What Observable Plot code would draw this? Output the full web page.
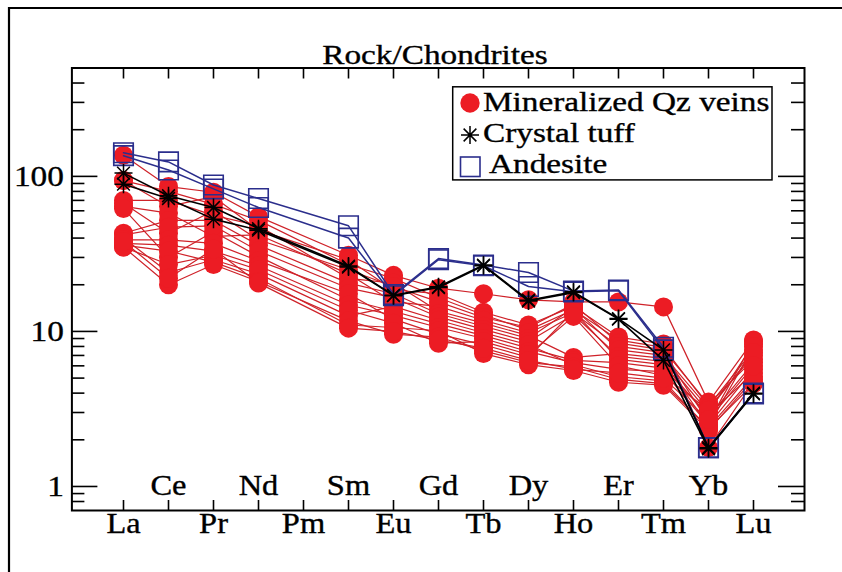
<!DOCTYPE html>
<html><head><meta charset="utf-8">
<script src="https://cdn.jsdelivr.net/npm/d3@7"></script>
<script src="https://cdn.jsdelivr.net/npm/@observablehq/plot@0.6"></script>
<style>
body{margin:0;background:#fff;}
#chart{position:relative;width:842px;height:572px;}
</style></head><body><div id="chart"></div>
<script>
// ---- data ----
const ree = ["La","Ce","Pr","Nd","Pm","Sm","Eu","Gd","Tb","Dy","Ho","Er","Tm","Yb","Lu"];
const outerLabels = ["La","Pr","Pm","Eu","Tb","Ho","Tm","Lu"];
const innerLabels = ["Ce","Nd","Sm","Gd","Dy","Er","Yb"];
const yMajorTicks = [1, 10, 100];
const yMinorTicks = [0.8, 0.9, 2, 3, 4, 5, 6, 7, 8, 9, 20, 30, 40, 50, 60, 70, 80, 90, 200, 300, 400];
const chartTitle = "Rock/Chondrites";
const legendLabels = ["Mineralized Qz veins", "Crystal tuff", "Andesite"];

// values per sample, in the order of `ree` (null = not analysed)
const qzVeins = [
  [137, 86, 79, 55, null, 31, 23, 19, 17.5, 16, 15.5, 15.5, 14.4, 3.5, 8.8],
  [94, 80, 66, 52, null, 27, 22, 16.5, 12.8, 10.2, 13.8, 8.8, 7.9, 3.3, 7.6],
  [94, 64, 74, 45, null, 29, 18.5, 17.5, 13.3, 11, 14.5, 9.2, 8.3, 1.78, 4.7],
  [70, 70, 56, 48, null, 22, 20.5, 13.5, 11.3, 9.4, 6.8, 7.2, 6.7, 3.0, 8.3],
  [67, 43, 60, 39, null, 25, 19.5, 15.5, 12.3, 10.6, 15, 8.4, 7.6, 3.4, 6.6],
  [64, 58, 41, 42, null, 23.5, 15.5, 14.5, 11.8, 9.8, 13.2, 8.0, 7.3, 2.6, 8.6],
  [62, 30, 44, 30.5, null, 16, 13.5, 11.2, 9.4, 7.8, 6.5, 6.3, 5.8, 2.9, 5.4],
  [43, 52, 52, 36, null, 20.5, 17.5, 13, 10.8, 9.0, 14.2, 7.6, 7.0, 3.2, 7.0],
  [42, 47, 48, 33, null, 19, 16.5, 12.4, 10.3, 8.6, 12.8, 6.9, 6.4, 2.45, 8.0],
  [40, 24, 29, 23.5, null, 12.6, 14.5, 11.8, 9.8, 8.2, 6.1, 5.1, 4.8, 2.35, 4.6],
  [39, 39, 37, 28.5, null, 17.5, 12, 9.6, 8.2, 6.8, 13.5, 6.6, 6.1, 2.8, 6.3],
  [37, 36, 33, 26.5, null, 14.8, 12.7, 10.6, 9.0, 7.4, 6.3, 5.7, 5.5, 2.5, 5.7],
  [36, 33, 28, 22, null, 11, 10.6, 10.1, 7.2, 6.1, 5.6, 4.7, 4.5, 2.3, 4.9],
  [35, 27, 31, 25, null, 13.7, 11.3, 8.4, 8.6, 7.1, 12.5, 6.0, 5.2, 3.1, 7.3],
  [35, 20, 27, 21, null, 11.7, 9.6, 9.2, 7.5, 6.3, 5.9, 4.9, 4.6, 2.4, 5.1],
  [38, 22, 34, 20.5, null, 10.5, 10, 8.8, 7.8, 6.5, 5.7, 5.4, 5.0, 2.7, 6.0]
];
const crystalTuff = [
  [105, 75, 63, 46, null, 26.4, 17.1, 19.4, 26.8, 15.9, 18, 12.1, 7.6, 1.78, 4.0],
  [89, 72, 53, 45, null, 26, 17, 19.2, 26.5, 15.7, 17.8, 12, 6.5, 1.75, 3.95]
];
const andesite = [
  [142, 124, 88, 72, null, 48, 17.3, 29.5, 26.8, 24, 18.2, 18.5, 7.9, 1.78, 4.0],
  [136, 110, 83, 63, null, 40, 17, 29, 26.5, 19.5, 18, 18.3, 7.6, 1.78, 3.95]
];

// ---- build tables ----
function rows(series, group) {
  const out = [];
  series.forEach((s, i) => s.forEach((v, j) => {
    if (v != null) out.push({id: group + i, el: ree[j], v});
  }));
  return out;
}
const redRows = rows(qzVeins, "q");
const blackRows = rows(crystalTuff, "c");
const blueRows = rows(andesite, "a");

// ---- styling ----
const W = 842, H = 572;
const mL = 71.4, mR = 38, mT = 67.5, mB = 62;
const pw = W - mL - mR, ph = H - mT - mB;
const serif = "'Liberation Serif','Times New Roman',serif";
const RED_DOT = "#ec1c24", RED_LINE = "#cf2229", BLUE = "#2b2e8c";

const asterisk8 = {
  draw(ctx, size) {
    const r = Math.sqrt(size / Math.PI), d = r * Math.SQRT1_2;
    ctx.moveTo(-r, 0); ctx.lineTo(r, 0);
    ctx.moveTo(0, -r); ctx.lineTo(0, r);
    ctx.moveTo(-d, -d); ctx.lineTo(d, d);
    ctx.moveTo(-d, d); ctx.lineTo(d, -d);
  }
};

const tickStyle = {stroke: "black", strokeWidth: 1.6};
const svg = Plot.plot({
  width: W, height: H,
  marginLeft: mL, marginRight: mR, marginTop: mT, marginBottom: mB,
  style: {fontFamily: serif, background: "white", overflow: "visible"},
  x: {type: "point", domain: ree, padding: 1},
  y: {type: "log", domain: [0.7, 500]},
  marks: [
    Plot.ruleY(yMinorTicks, {insetRight: pw - 13, ...tickStyle}),
    Plot.ruleY(yMinorTicks, {insetLeft: pw - 13, ...tickStyle}),
    Plot.ruleY(yMajorTicks, {insetRight: pw - 26, ...tickStyle}),
    Plot.ruleY(yMajorTicks, {insetLeft: pw - 26, ...tickStyle}),
    Plot.ruleX(ree, {insetTop: ph - 10, ...tickStyle}),
    Plot.ruleX(ree, {insetBottom: ph - 11, ...tickStyle}),
    Plot.axisY({ticks: yMajorTicks, tickSize: 0, tickPadding: 8, fontSize: 29.5, label: null, tickFormat: d => String(d), fill: "black"}),
    Plot.axisX({ticks: outerLabels, tickSize: 0, tickPadding: 2, fontSize: 29.5, label: null, fill: "black"}),
    Plot.axisX({ticks: innerLabels, tickSize: 0, tickPadding: 2, dy: -38, fontSize: 29.5, label: null, fill: "black"}),
    Plot.line(redRows, {x: "el", y: "v", z: "id", stroke: RED_LINE, strokeWidth: 1.2}),
    Plot.dot(redRows, {x: "el", y: "v", r: 9.5, fill: RED_DOT, stroke: "none"}),
    Plot.line(blueRows, {x: "el", y: "v", z: "id", stroke: BLUE, strokeWidth: 1.5}),
    Plot.dot(blueRows, {x: "el", y: "v", symbol: "square", r: 11, fill: "none", stroke: BLUE, strokeWidth: 1.6}),
    Plot.line(blackRows, {x: "el", y: "v", z: "id", stroke: "black", strokeWidth: 1.6}),
    Plot.dot(blackRows, {x: "el", y: "v", symbol: asterisk8, r: 9, fill: "none", stroke: "black", strokeWidth: 1.5}),
    Plot.frame({stroke: "black", strokeWidth: 2})
  ]
});
document.getElementById("chart").appendChild(svg);

// ---- decorations: outer border, title, legend ----
const s = d3.select(svg);
s.append("path").attr("d", "M9,600V8H860").attr("fill", "none").attr("stroke", "black").attr("stroke-width", 2.2);
s.append("text").attr("class", "stretch-title").attr("x", 435).attr("y", 64)
  .attr("text-anchor", "middle").attr("font-size", 27.5).attr("font-family", serif).attr("fill", "black").text(chartTitle);

const lg = s.append("g");
lg.append("rect").attr("x", 452.7).attr("y", 86.8).attr("width", 319.3).attr("height", 93.1)
  .attr("fill", "white").attr("stroke", "black").attr("stroke-width", 1.5);
lg.append("circle").attr("cx", 470).attr("cy", 103).attr("r", 9.7).attr("fill", RED_DOT);
const p = d3.path(); asterisk8.draw(p, 9 * 9 * Math.PI);
lg.append("path").attr("transform", "translate(470,135)").attr("d", p.toString()).attr("fill", "none").attr("stroke", "black").attr("stroke-width", 1.5);
lg.append("rect").attr("x", 460.5).attr("y", 157).attr("width", 19.5).attr("height", 19.5).attr("fill", "none").attr("stroke", BLUE).attr("stroke-width", 1.6);
const lgX = [483, 483, 489], lgY = [111, 142, 173];
legendLabels.forEach((t, i) => {
  lg.append("text").attr("class", "stretch-title").attr("x", lgX[i]).attr("y", lgY[i])
    .attr("text-anchor", "start")
    .attr("font-size", 27.5).attr("font-family", serif).attr("fill", "black").text(t);
});

// horizontal stretch + slight weight of the serif text to mimic the reference rendering
svg.querySelectorAll("text").forEach(t => {
  const g = t.closest("g[aria-label]");
  const lab = g ? g.getAttribute("aria-label") : "";
  let k = 1.1;
  if (t.classList.contains("stretch-title")) k = 1.21;
  else if (lab.startsWith("y-axis")) k = 1.13;
  const w = t.getComputedTextLength();
  if (w > 0) { t.setAttribute("textLength", (w * k).toFixed(1)); t.setAttribute("lengthAdjust", "spacingAndGlyphs"); }
  t.setAttribute("stroke", "black"); t.setAttribute("stroke-width", 0.35);
});
</script></body></html>
